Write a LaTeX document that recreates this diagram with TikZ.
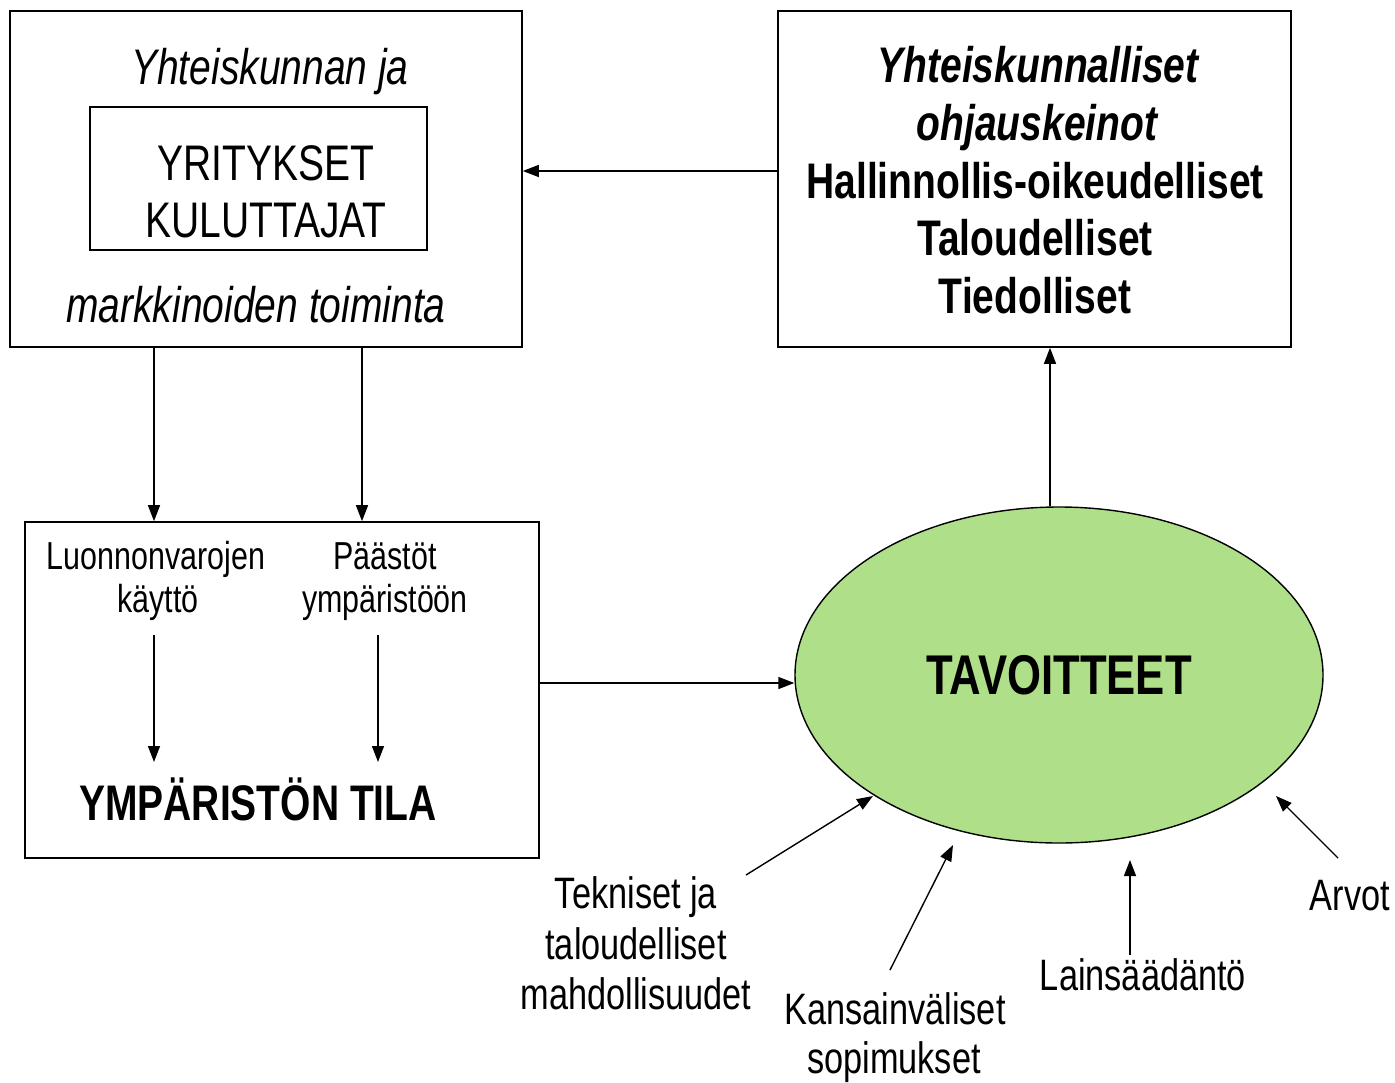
\documentclass[tikz,border=0pt]{standalone}
\usepackage{fontspec}
\setmainfont{Liberation Sans}[FakeStretch=0.78]
\usetikzlibrary{arrows.meta,shapes.geometric}
\definecolor{goalgreen}{HTML}{B0DF8A}
\tikzset{
  box/.style={draw=black, line width=1.6pt, inner sep=0pt},
  arr/.style={draw=black, line width=1.4pt, -{Triangle[length=16pt,width=12pt]}},
  txt/.style={anchor=base, inner sep=0pt},
  big/.style={font=\fontsize{50}{56}\selectfont},
  mid/.style={font=\fontsize{39}{44}\selectfont},
  low/.style={font=\fontsize{44}{50}\selectfont},
}
\begin{document}
\begin{tikzpicture}[x=1pt,y=-1pt]
\useasboundingbox (0,0) rectangle (1395,1082);

% boxes
\node[box, minimum width=512pt, minimum height=336pt] (A) at (266,179) {};
\node[box, minimum width=337pt, minimum height=143pt] (Ain) at (258.5,178.5) {};
\node[box, minimum width=513pt, minimum height=336pt] (B) at (1034.5,179) {};
\node[box, minimum width=514pt, minimum height=336pt] (C) at (282,690) {};
\node[ellipse, draw=black, line width=1.4pt, fill=goalgreen, minimum width=528pt, minimum height=336pt, inner sep=0pt,
      font=\fontsize{56}{60}\selectfont\bfseries] (ell) at (1059,675) {TAVOITTEET};

% texts box A
\node[txt, big] (a1) at (270,84) {\itshape Yhteiskunnan ja};
\node[txt, big] (a2) at (266,180) {YRITYKSET};
\node[txt, big] (a3) at (266,237) {KULUTTAJAT};
\node[txt, big] (a4) at (256,322) {\itshape markkinoiden toiminta};

% texts box B
\node[txt, big] (b1) at (1038,82) {\bfseries\itshape Yhteiskunnalliset};
\node[txt, big] (b2) at (1037,140) {\bfseries\itshape ohjauskeinot};
\node[txt, big] (b3) at (1035,198) {\bfseries Hallinnollis-oikeudelliset};
\node[txt, big] (b4) at (1035,255) {\bfseries Taloudelliset};
\node[txt, big] (b5) at (1035,313) {\bfseries Tiedolliset};

% texts box C
\node[txt, mid] (c1) at (156,569) {Luonnonvarojen};
\node[txt, mid] (c2) at (158,612) {käyttö};
\node[txt, mid] (c3) at (385,569) {Päästöt};
\node[txt, mid] (c4) at (385,612) {ympäristöön};
\node[txt, big] (c5) at (258,820) {\bfseries YMPÄRISTÖN TILA};

% bottom labels
\node[txt, low] (t1) at (636,908) {Tekniset ja};
\node[txt, low] (t2) at (636,959) {taloudelliset};
\node[txt, low] (t3) at (636,1009) {mahdollisuudet};
\node[txt, low] (k1) at (895,1024) {Kansainväliset};
\node[txt, low] (k2) at (894,1073) {sopimukset};
\node[txt, low] (l1) at (1143,990) {Lainsäädäntö};
\node[txt, low] (r1) at (1350,910) {Arvot};

% helper coordinates
\coordinate (yBA) at (0,171);
\coordinate (xL) at (154,0);
\coordinate (xR) at (362,0);
\coordinate (yCE) at (0,683);
\coordinate (xEB) at (1050,0);
\coordinate (c1s) at (154,635);
\coordinate (c1e) at (154,762);
\coordinate (c3s) at (378,635);
\coordinate (c3e) at (378,762);
\coordinate (tS) at (746,875);
\coordinate (tE) at (873,796);
\coordinate (kS) at (890,970);
\coordinate (kE) at (953,845);
\coordinate (lS) at (1130,955);
\coordinate (lE) at (1130,860);
\coordinate (rS) at (1338,858);
\coordinate (rE) at (1276,796);

% connectors
\draw[arr] (B.west |- yBA) -- (A.east |- yBA);
\draw[arr] (A.south -| xL) -- (C.north -| xL);
\draw[arr] (A.south -| xR) -- (C.north -| xR);
\draw[arr] (C.east |- yCE) -- (ell.west |- yCE);
\draw[arr] (ell.north -| xEB) -- (B.south -| xEB);
\draw[arr] (c1s) -- (c1e);
\draw[arr] (c3s) -- (c3e);
\draw[arr] (tS) -- (tE);
\draw[arr] (kS) -- (kE);
\draw[arr] (lS) -- (lE);
\draw[arr] (rS) -- (rE);
\end{tikzpicture}
\end{document}
